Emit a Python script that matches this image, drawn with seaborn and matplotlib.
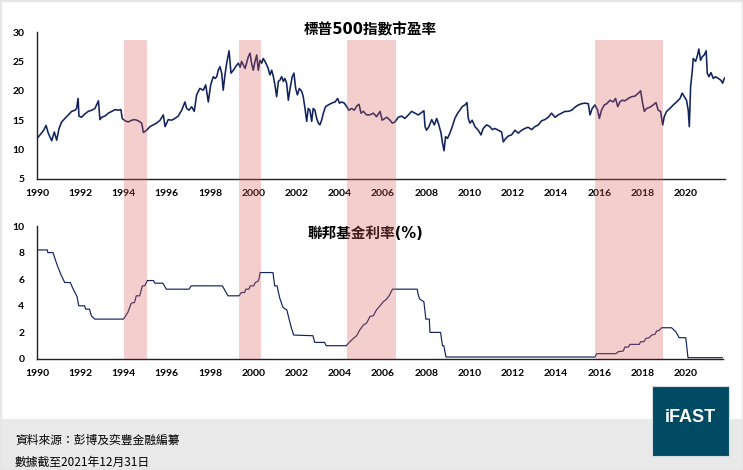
import matplotlib
matplotlib.use("Agg")
import matplotlib.pyplot as plt
import matplotlib.transforms as mtransforms
from matplotlib.patches import Rectangle
import seaborn as sns

# ---------------- data ----------------
pe_years = [
    1990.00, 1990.14, 1990.29, 1990.42, 1990.52, 1990.68, 1990.80, 1990.91, 1991.02, 1991.14,
    1991.29, 1991.45, 1991.60, 1991.76, 1991.83, 1991.90, 1991.94, 1992.06, 1992.22, 1992.37,
    1992.53, 1992.68, 1992.84, 1992.91, 1992.99, 1993.14, 1993.30, 1993.45, 1993.61, 1993.76,
    1993.88, 1993.94, 1994.07, 1994.22, 1994.38, 1994.53, 1994.68, 1994.84, 1994.92, 1995.07,
    1995.22, 1995.38, 1995.53, 1995.69, 1995.84, 1995.92, 1996.07, 1996.22, 1996.38, 1996.53,
    1996.69, 1996.84, 1996.92, 1997.03, 1997.15, 1997.27, 1997.38, 1997.53, 1997.69, 1997.80,
    1997.92, 1998.03, 1998.15, 1998.23, 1998.31, 1998.38, 1998.46, 1998.54, 1998.61, 1998.69,
    1998.77, 1998.88, 1998.97, 1999.08, 1999.18, 1999.31, 1999.39, 1999.46, 1999.54, 1999.62,
    1999.69, 1999.77, 1999.85, 1999.92, 2000.00, 2000.08, 2000.16, 2000.23, 2000.31, 2000.39,
    2000.46, 2000.54, 2000.62, 2000.69, 2000.77, 2000.85, 2000.93, 2001.00, 2001.08, 2001.16,
    2001.23, 2001.31, 2001.39, 2001.46, 2001.54, 2001.62, 2001.70, 2001.80, 2001.88, 2001.96,
    2002.04, 2002.13, 2002.24, 2002.31, 2002.39, 2002.47, 2002.54, 2002.62, 2002.70, 2002.77,
    2002.85, 2002.93, 2003.01, 2003.08, 2003.16, 2003.24, 2003.34, 2003.47, 2003.62, 2003.78,
    2003.90, 2003.98, 2004.08, 2004.21, 2004.32, 2004.42, 2004.55, 2004.67, 2004.78, 2004.89,
    2004.98, 2005.09, 2005.24, 2005.39, 2005.55, 2005.70, 2005.86, 2005.96, 2006.09, 2006.17,
    2006.32, 2006.43, 2006.55, 2006.70, 2006.86, 2007.01, 2007.17, 2007.32, 2007.48, 2007.63,
    2007.78, 2007.89, 2007.94, 2008.01, 2008.12, 2008.25, 2008.37, 2008.48, 2008.58, 2008.68,
    2008.75, 2008.82, 2008.89, 2008.98, 2009.09, 2009.20, 2009.32, 2009.45, 2009.55, 2009.66,
    2009.79, 2009.88, 2009.94, 2010.02, 2010.12, 2010.25, 2010.40, 2010.53, 2010.63, 2010.79,
    2010.94, 2011.05, 2011.17, 2011.33, 2011.48, 2011.56, 2011.67, 2011.79, 2011.94, 2012.10,
    2012.25, 2012.41, 2012.56, 2012.71, 2012.87, 2013.02, 2013.18, 2013.33, 2013.48, 2013.64,
    2013.79, 2013.95, 2014.10, 2014.26, 2014.41, 2014.56, 2014.72, 2014.87, 2015.03, 2015.18,
    2015.33, 2015.49, 2015.57, 2015.67, 2015.80, 2015.92, 2016.00, 2016.10, 2016.23, 2016.34,
    2016.49, 2016.64, 2016.75, 2016.85, 2016.95, 2017.06, 2017.18, 2017.34, 2017.49, 2017.65,
    2017.80, 2017.91, 2018.00, 2018.08, 2018.19, 2018.34, 2018.49, 2018.62, 2018.72, 2018.83,
    2018.93, 2019.00, 2019.11, 2019.26, 2019.42, 2019.57, 2019.73, 2019.83, 2019.93, 2020.03,
    2020.11, 2020.16, 2020.22, 2020.30, 2020.34, 2020.45, 2020.54, 2020.60, 2020.68, 2020.76,
    2020.85, 2020.94, 2020.99, 2021.07, 2021.16, 2021.27, 2021.37, 2021.50, 2021.62, 2021.70,
    2021.78, 2021.85,
]
pe_values = [
    11.9, 12.5, 13.2, 14.1, 12.8, 11.5, 13.0, 11.6, 13.6, 14.7,
    15.3, 15.9, 16.5, 16.7, 17.0, 18.7, 15.7, 15.5, 16.1, 16.5,
    16.7, 17.0, 18.3, 15.1, 15.5, 15.7, 16.2, 16.5, 16.8, 16.7,
    16.8, 15.3, 14.9, 14.7, 15.0, 15.1, 14.9, 14.5, 12.9, 13.3,
    13.9, 14.2, 14.5, 15.0, 15.9, 13.9, 15.1, 15.0, 15.3, 15.7,
    16.7, 18.1, 17.0, 16.7, 17.3, 16.5, 19.3, 20.4, 20.1, 21.0,
    18.1, 21.0, 22.4, 22.1, 22.4, 23.5, 24.1, 23.0, 20.1, 22.7,
    24.7, 26.8, 23.0, 23.5, 24.1, 24.7, 24.0, 25.0, 24.4, 23.8,
    24.7, 25.8, 26.4, 24.7, 23.5, 25.0, 26.1, 23.5, 25.2, 24.7,
    25.5, 25.0, 24.4, 23.8, 22.7, 23.5, 22.4, 21.0, 19.0, 21.6,
    21.8, 22.4, 21.6, 22.1, 21.3, 18.4, 20.4, 22.4, 23.0, 20.4,
    19.3, 20.4, 19.9, 19.0, 17.0, 14.8, 17.0, 16.7, 14.8, 17.0,
    16.7, 15.3, 14.5, 14.2, 15.0, 16.2, 17.3, 17.6, 17.9, 18.1,
    18.7, 17.9, 18.1, 17.9, 17.3, 16.7, 17.0, 16.7, 17.4, 17.7,
    16.2, 16.5, 15.9, 15.9, 16.2, 15.6, 16.5, 15.0, 15.3, 15.5,
    15.0, 14.5, 14.7, 15.5, 15.7, 15.3, 15.9, 16.5, 16.2, 15.9,
    16.3, 16.6, 13.9, 13.3, 13.9, 15.1, 14.2, 15.3, 14.2, 12.8,
    11.1, 9.8, 12.2, 11.9, 12.8, 13.9, 15.3, 16.2, 16.7, 17.3,
    17.6, 18.0, 15.3, 14.5, 15.0, 13.9, 13.3, 12.5, 13.6, 14.2,
    13.9, 13.4, 13.6, 13.3, 13.0, 11.3, 11.9, 12.3, 12.5, 13.3,
    12.8, 13.3, 13.6, 13.8, 13.4, 13.9, 14.2, 14.9, 15.1, 15.5,
    16.2, 15.5, 15.9, 16.2, 16.5, 16.5, 16.7, 17.2, 17.6, 17.8,
    17.9, 17.8, 15.9, 17.0, 17.6, 16.7, 15.3, 16.7, 17.6, 17.8,
    18.4, 18.1, 18.7, 17.3, 18.1, 18.4, 18.3, 18.7, 19.0, 19.1,
    19.6, 20.0, 17.9, 16.5, 17.0, 17.2, 17.6, 18.0, 16.7, 16.5,
    14.2, 15.6, 16.5, 17.0, 17.6, 18.1, 18.7, 19.6, 19.0, 18.4,
    16.7, 13.9, 20.7, 23.5, 25.5, 25.0, 26.1, 27.1, 25.2, 25.8,
    26.1, 26.8, 23.0, 22.4, 23.1, 22.1, 22.4, 22.1, 21.8, 21.3,
    22.1, 22.4,
]

fed_years = [
    1990.00, 1990.48, 1990.50, 1990.74, 1990.86, 1990.97, 1991.12, 1991.28, 1991.54, 1991.66,
    1991.85, 1991.93, 1992.20, 1992.25, 1992.43, 1992.51, 1992.67, 1994.00, 1994.20, 1994.36,
    1994.51, 1994.59, 1994.75, 1994.87, 1994.98, 1995.10, 1995.39, 1995.45, 1995.82, 1995.98,
    1997.03, 1997.13, 1998.57, 1998.83, 1999.34, 1999.45, 1999.60, 1999.65, 1999.80, 1999.86,
    2000.02, 2000.09, 2000.22, 2000.26, 2000.32, 2000.91, 2000.99, 2001.10, 2001.22, 2001.37,
    2001.48, 2001.55, 2001.75, 2001.87, 2002.76, 2002.84, 2003.30, 2003.37, 2004.30, 2004.47,
    2004.63, 2004.78, 2004.93, 2005.09, 2005.24, 2005.40, 2005.55, 2005.70, 2005.86, 2006.01,
    2006.16, 2006.28, 2006.44, 2007.58, 2007.64, 2007.70, 2007.89, 2007.98, 2008.14, 2008.17,
    2008.66, 2008.75, 2008.81, 2008.91, 2015.80, 2015.88, 2016.77, 2016.88, 2017.11, 2017.18,
    2017.34, 2017.42, 2017.85, 2017.91, 2018.06, 2018.16, 2018.31, 2018.42, 2018.57, 2018.65,
    2018.77, 2018.88, 2019.34, 2019.54, 2019.69, 2020.00, 2020.10, 2021.69,
]
fed_values = [
    8.2, 8.2, 8.0, 8.0, 7.4, 6.9, 6.3, 5.75, 5.75, 5.3,
    4.7, 4.0, 4.0, 3.75, 3.75, 3.25, 3.0, 3.0, 3.5, 4.2,
    4.25, 4.75, 4.75, 5.5, 5.5, 5.9, 5.9, 5.7, 5.7, 5.25,
    5.25, 5.5, 5.5, 4.75, 4.75, 5.0, 5.0, 5.25, 5.25, 5.5,
    5.5, 5.75, 5.85, 6.0, 6.5, 6.5, 5.5, 5.5, 4.6, 3.9,
    3.75, 3.7, 2.4, 1.8, 1.75, 1.25, 1.25, 1.0, 1.0, 1.3,
    1.55, 1.75, 2.2, 2.55, 2.7, 3.2, 3.25, 3.7, 4.0, 4.3,
    4.5, 4.75, 5.25, 5.25, 4.75, 4.5, 4.3, 3.0, 3.0, 2.0,
    2.0, 1.0, 1.0, 0.15, 0.15, 0.4, 0.4, 0.55, 0.6, 0.9,
    0.9, 1.1, 1.1, 1.3, 1.3, 1.55, 1.6, 1.8, 1.85, 2.1,
    2.15, 2.35, 2.35, 2.05, 1.6, 1.6, 0.1, 0.1,
]

hike_starts = [1994.0, 1999.35, 2004.33, 2015.8]
hike_ends = [1995.1, 2000.35, 2006.6, 2018.93]

x_ticks = list(range(1990, 2021, 2))
pe_yticks = [5, 10, 15, 20, 25, 30]
fed_yticks = [0, 2, 4, 6, 8, 10]

title_pe = "標普500指數市盈率"
title_fed = "聯邦基金利率(%)"
source_line = "資料來源：彭博及奕豐金融編纂"
date_line = "數據截至2021年12月31日"
logo_text = "iFAST"

# ---------------- style ----------------
sns.set_style("white")
plt.rcParams['font.family'] = ['Lato', 'Noto Sans CJK TC', 'DejaVu Sans']

W, H = 743, 470
navy = "#10235e"

fig = plt.figure(figsize=(W / 100, H / 100), dpi=100)


def fx(px):
    return px / W


def fy(py):
    return (H - py) / H


ax1 = fig.add_axes([fx(37), fy(179), fx(725) - fx(37), fy(32) - fy(179)])
ax2 = fig.add_axes([fx(37), fy(359), fx(723) - fx(37), fy(226) - fy(359)])

sns.lineplot(x=pe_years, y=pe_values, ax=ax1, color=navy, linewidth=1.15)
sns.lineplot(x=fed_years, y=fed_values, ax=ax2, color=navy, linewidth=0.85)

ax1.set_xlim(1990, 2021.81)
ax1.set_ylim(5, 30)
ax2.set_xlim(1990, 2021.72)
ax2.set_ylim(0, 10)

for ax, yt in ((ax1, pe_yticks), (ax2, fed_yticks)):
    ax.set_xticks(x_ticks)
    ax.set_xticklabels([str(t) for t in x_ticks])
    ax.set_yticks(yt)
    ax.set_yticklabels([str(t) for t in yt])
    ax.set_xlabel("")
    ax.set_ylabel("")
    for s in ("top", "right"):
        ax.spines[s].set_visible(False)
    for s in ("left", "bottom"):
        ax.spines[s].set_color("#222222")
        ax.spines[s].set_linewidth(1.0)
    ax.tick_params(axis="x", direction="out", length=3, width=0.9, color="#222222",
                   pad=4, labelsize=7.5, labelcolor="black")
    ax.tick_params(axis="y", length=0, pad=9, labelsize=7.5, labelcolor="black")
    for lab in ax.get_xticklabels() + ax.get_yticklabels():
        lab.set_fontweight("bold")
    ax.grid(False)

# shaded rate-hike periods spanning both panels
blend = mtransforms.blended_transform_factory(ax1.transData, fig.transFigure)
for s, e in zip(hike_starts, hike_ends):
    rect = Rectangle((s, fy(359)), e - s, fy(40) - fy(359), transform=blend,
                     facecolor="#dc5c5c", alpha=0.3, edgecolor="none", zorder=5)
    fig.add_artist(rect)

# titles
fig.text(fx(370), fy(30), title_pe, ha="center", va="center", fontsize=10.5,
         fontweight="bold", family=['DejaVu Sans', 'Noto Sans CJK TC'], color="black")
fig.text(fx(365), fy(233), title_fed, ha="center", va="center", fontsize=10.5,
         fontweight="bold", family=['DejaVu Sans', 'Noto Sans CJK TC'], color="black")

# footer band
fig.add_artist(Rectangle((0, 0), 1, fy(419), transform=fig.transFigure,
                         facecolor="#e9e9e9", edgecolor="none", zorder=0.5))
fig.text(fx(15), fy(440), source_line, ha="left", va="center", fontsize=8.5,
         family=['Noto Sans CJK TC'], color="black", zorder=2)
fig.text(fx(15), fy(462), date_line, ha="left", va="center", fontsize=8.5,
         family=['Noto Sans CJK TC'], color="black", zorder=2)

# logo box
fig.add_artist(Rectangle((fx(652), fy(456)), fx(729) - fx(652), fy(386) - fy(456),
                         transform=fig.transFigure, facecolor="#014a63",
                         edgecolor="#d5dde0", linewidth=0.8, zorder=3))
fig.text(fx(690.5), fy(418), logo_text, ha="center", va="center", fontsize=13,
         fontweight="bold", family=['Liberation Sans'], color="white", zorder=4)

# faint outer border
fig.add_artist(Rectangle((0, 0), 1, 1, transform=fig.transFigure, fill=False,
                         edgecolor="#e6e6e6", linewidth=2.5, zorder=6))

fig.savefig("out.png", dpi=100)
